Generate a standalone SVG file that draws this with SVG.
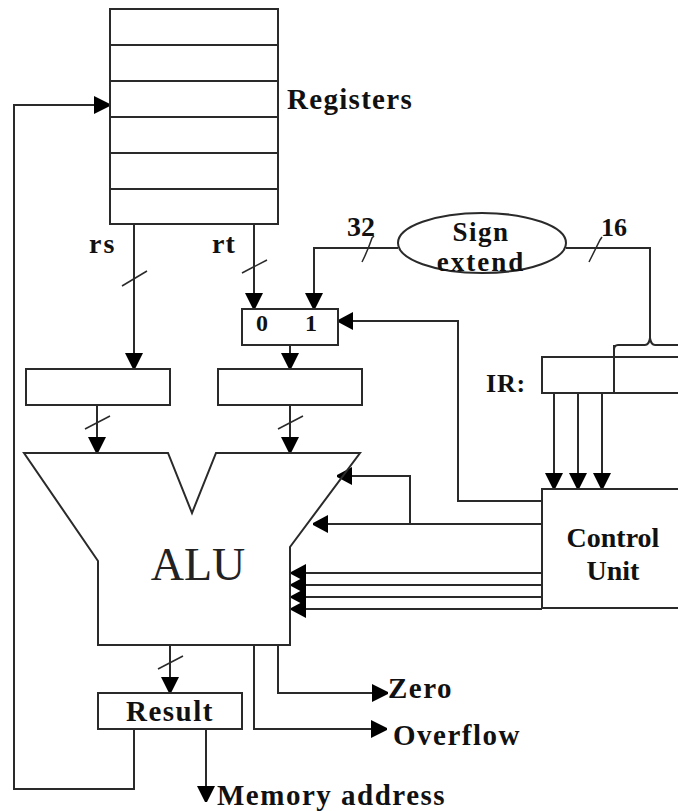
<svg xmlns="http://www.w3.org/2000/svg" width="678" height="811" viewBox="0 0 678 811">
<defs>
<style>
.l{fill:none;stroke:#2a2a2a;stroke-width:2}
.b{fill:#fff;stroke:#2a2a2a;stroke-width:2}
.s{fill:none;stroke:#2a2a2a;stroke-width:1.5}
text{font-family:"Liberation Serif","Times New Roman",serif;font-weight:bold;fill:#111;font-size:28px}
.m{text-anchor:middle}
.w{font-size:29px;letter-spacing:1.5px}
</style>
<path id="d" d="M-9 -16H9L1 0H-1Z" fill="#000"/>
<path id="r" d="M-16 -9V9L0 1V-1Z" fill="#000"/>
<path id="w" d="M15 -9V9L0 1V-1Z" fill="#000"/>
</defs>
<rect width="678" height="811" fill="#fff"/>
<g id="connectors">
<path class="l" d="M134 729V789H14V105H96"/><use href="#r" x="110" y="105"/>
<path class="l" d="M134 224V354"/><use href="#d" x="134" y="369"/>
<path class="s" d="M122 286L147 271"/>
<path class="l" d="M254 224V295"/><use href="#d" x="254" y="309"/>
<path class="s" d="M242 273L267 260"/>
<path class="l" d="M398 248H314V295"/><use href="#d" x="314" y="309"/>
<path class="s" d="M362 262Q368 250 372 238L374 236"/>
<path class="l" d="M566 248H650V338"/>
<path class="s" d="M589 262Q595 250 600 240L602 237"/>
<path class="l" d="M678 345H655Q651 345 650 338Q649 345 645 345H618Q614 345 614 350V393"/>
<path class="l" d="M554 393V475"/><use href="#d" x="554" y="489"/>
<path class="l" d="M578 393V475"/><use href="#d" x="578" y="489"/>
<path class="l" d="M602 393V475"/><use href="#d" x="602" y="489"/>
<path class="l" d="M542 501H458V321H350"/><use href="#w" x="338" y="321"/>
<path class="l" d="M290 345V355"/><use href="#d" x="290" y="369"/>
<path class="l" d="M97 405V440"/><use href="#d" x="97" y="453"/>
<path class="s" d="M85 429L110 416"/>
<path class="l" d="M290 405V440"/><use href="#d" x="290" y="453"/>
<path class="s" d="M278 429L303 416"/>
<path class="l" d="M542 524H326"/><use href="#w" x="313" y="524"/>
<path class="l" d="M410 524V476H350"/><use href="#w" x="337" y="476"/>
<path class="l" d="M542 573H302"/><use href="#w" x="291" y="573"/>
<path class="l" d="M542 585H302"/><use href="#w" x="291" y="585"/>
<path class="l" d="M542 597H302"/><use href="#w" x="291" y="597"/>
<path class="l" d="M542 609H302"/><use href="#w" x="291" y="609"/>
<path class="l" d="M170 645V680"/><use href="#d" x="170" y="693"/>
<path class="s" d="M158 669L183 656"/>
<path class="l" d="M278 645V693H376"/><use href="#r" x="388" y="693"/>
<path class="l" d="M254 645V729H375"/><use href="#r" x="387" y="729"/>
<path class="l" d="M206 729V790"/><use href="#d" x="206" y="802"/>
</g>
<g id="registers">
<rect class="b" x="110" y="9" width="168" height="215"/>
<path class="l" d="M110 45H278M110 81H278M110 117H278M110 153H278M110 189H278"/>
<text x="287" y="109" style="font-size:29px;letter-spacing:1.3px">Registers</text>
</g>
<text id="label-rs" x="89" y="253" style="letter-spacing:2px">rs</text>
<text id="label-rt" x="212" y="253" style="letter-spacing:1px">rt</text>
<text id="label-32" x="347" y="236">32</text>
<text id="label-16" x="601" y="236" style="font-size:26px">16</text>
<g id="sign-extend">
<ellipse class="b" cx="482" cy="243" rx="84" ry="30"/>
<text class="m" x="481" y="241" style="font-size:27px;letter-spacing:1.5px">Sign</text>
<text class="m" x="481" y="271" style="font-size:27px;letter-spacing:2px">extend</text>
</g>
<g id="mux">
<rect class="b" x="242" y="309" width="96" height="36"/>
<text class="m" x="262" y="331" style="font-size:24px">0</text>
<text class="m" x="311" y="331" style="font-size:24px">1</text>
</g>
<g id="reg-a"><rect class="b" x="26" y="369" width="144" height="36"/></g>
<g id="reg-b"><rect class="b" x="218" y="369" width="144" height="36"/></g>
<g id="ir">
<rect class="b" x="542" y="357" width="140" height="36"/>
<path class="l" d="M614 345V393"/>
<text x="486" y="392" style="font-size:26px;letter-spacing:0.8px">IR:</text>
</g>
<g id="alu">
<path class="l" d="M24 453H168L192 513L216 453H360L290 547V645H98V561Z"/>
<text class="m" x="198" y="580" style="font-size:46px;font-weight:normal;fill:#222">ALU</text>
</g>
<g id="control">
<rect class="b" x="542" y="489" width="140" height="119"/>
<text class="m" x="613" y="547">Control</text>
<text class="m" x="613" y="580">Unit</text>
</g>
<g id="result">
<rect class="b" x="98" y="693" width="144" height="36"/>
<text class="m w" x="170" y="721">Result</text>
</g>
<text id="label-zero" class="w" x="388" y="698">Zero</text>
<text id="label-overflow" class="w" x="393" y="745">Overflow</text>
<text id="label-memory" class="w" x="217" y="805">Memory address</text>
</svg>
